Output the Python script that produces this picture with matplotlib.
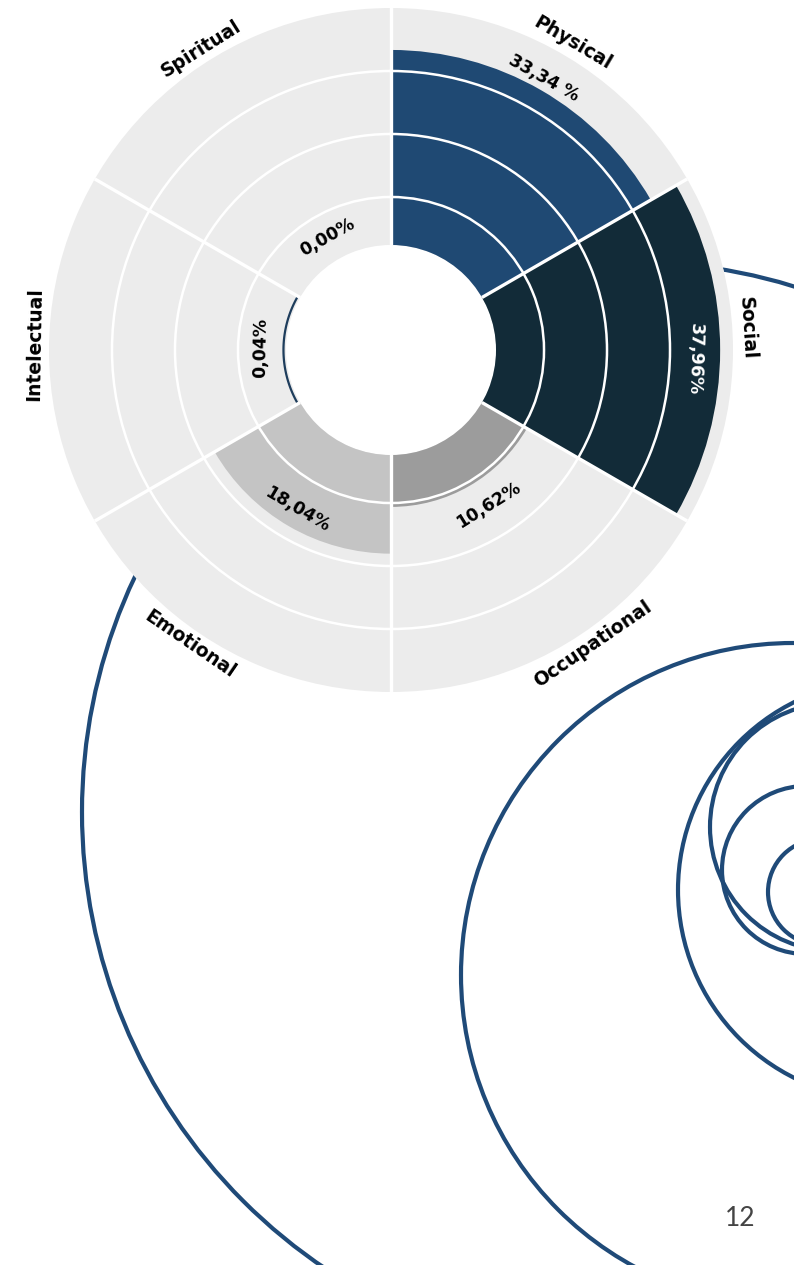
import numpy as np
import matplotlib
matplotlib.use('Agg')
import matplotlib.pyplot as plt
from matplotlib.patches import Circle

# ---------------- data ----------------
categories = ['Physical', 'Social', 'Occupational', 'Emotional', 'Intelectual', 'Spiritual']
values = [33.34, 37.96, 10.62, 18.04, 0.04, 0.00]
value_labels = ['33,34 %', '37,96%', '10,62%', '18,04%', '0,04%', '0,00%']
r_ticks = [10, 20, 30]
r_max = 40
page_number = '12'

# ---------------- style ----------------
bar_colors = ['#1F4973', '#122B38', '#9C9C9C', '#C4C4C4', '#1E3D5C', '#1E3D5C']
value_text_colors = ['black', 'white', 'black', 'black', 'black', 'black']
ring_color = '#ECECEC'
deco_color = '#1F4A78'
cat_angles = [30.6, 86.4, 145.6, 214.3, 271.0, 327.8]   # label placement (deg, clockwise from N)
cat_radius = 42.3
pct_angles = [29.4, 91.7, 148.0, 210.6, 270.9, 330.5]
pct_radius = [35.2, 34.0, 14.8, 15.1, 6.35, 6.35]

W, H = 794, 1265
fig = plt.figure(figsize=(W / 100, H / 100), dpi=100)
fig.patch.set_facecolor('white')

# background decorative layer (pixel coordinates)
bg = fig.add_axes([0, 0, 1, 1])
bg.set_xlim(0, W)
bg.set_ylim(H, 0)
bg.axis('off')
deco_circles = [(632, 812, 550), (793, 975, 332), (888, 890, 210),
                (834, 827, 124), (806, 870, 84), (821, 892, 53)]
for x, y, r in deco_circles:
    bg.add_patch(Circle((x, y), r, fill=False, edgecolor=deco_color, lw=3.0, zorder=2))

# polar chart
cx, cy, R = 391, 350, 342
bg.add_patch(Circle((cx, cy), R, facecolor='white', edgecolor='none', zorder=5))
ax = fig.add_axes([(cx - R) / W, (H - cy - R) / H, 2 * R / W, 2 * R / H], projection='polar')
ax.set_theta_zero_location('N')
ax.set_theta_direction(-1)
r_min = 2.38
ax.set_ylim(r_min, r_max)
ax.set_rorigin(-14.29)
ax.set_facecolor(ring_color)

n = len(categories)
width = 2 * np.pi / n
theta = np.arange(n) * width + width / 2
ax.bar(theta, values, width=width, bottom=0, color=bar_colors, edgecolor='none', zorder=1)

# values hidden by the centre hole get a thin arc at the hole edge
for th, v, c in zip(theta, values, bar_colors):
    if 0 < v < r_min:
        t = np.linspace(th - width / 2, th + width / 2, 80)
        ax.plot(t, np.full_like(t, r_min + 0.4), color=c, lw=1.6,
                solid_capstyle='butt', zorder=1.5)

ax.set_xticks(np.arange(n) * width)
ax.set_yticks(r_ticks)
ax.set_xticklabels([])
ax.set_yticklabels([])
ax.tick_params(length=0)
ax.xaxis.grid(True, color='white', lw=2.4)
ax.yaxis.grid(True, color='white', lw=1.8)
ax.set_axisbelow(False)
ax.spines['polar'].set_visible(False)
ax.spines['inner'].set_linewidth(0)


def tangential_rotation(theta_deg, mid_deg):
    return 180 - theta_deg if 90 < mid_deg < 270 else -theta_deg


for i in range(n):
    mid = np.degrees(theta[i])
    ax.text(np.radians(cat_angles[i]), cat_radius, categories[i],
            rotation=tangential_rotation(cat_angles[i], mid), rotation_mode='anchor',
            ha='center', va='center', fontsize=13.5, fontweight='bold',
            family='DejaVu Sans', color='black', zorder=4)
    ax.text(np.radians(pct_angles[i]), pct_radius[i], value_labels[i],
            rotation=tangential_rotation(pct_angles[i], mid), rotation_mode='anchor',
            ha='center', va='center', fontsize=12.5, fontweight='bold',
            family='DejaVu Sans', color=value_text_colors[i], zorder=4)

fig.text(740 / W, 1 - 1218 / H, page_number, ha='center', va='center',
         fontsize=19, fontweight='normal', family=['Lato', 'DejaVu Sans'], color='#444444')

fig.savefig('out.png', dpi=100, facecolor='white')
